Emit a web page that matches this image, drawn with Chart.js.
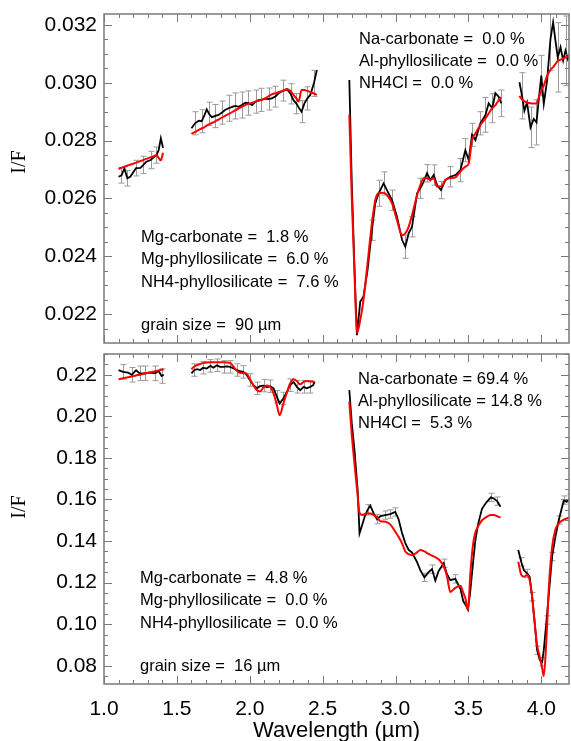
<!DOCTYPE html>
<html>
<head>
<meta charset="utf-8">
<script src="https://cdn.jsdelivr.net/npm/chart.js@4"></script>
<style>
  body { margin: 0; background: #fff; }
  #wrap { position: relative; width: 571px; height: 741px; }
  canvas { position: absolute; left: 0; }
</style>
</head>
<body>
<div id="wrap">
  <canvas id="top" width="571" height="350" style="top:0"></canvas>
  <canvas id="bottom" width="571" height="391" style="top:350px"></canvas>
</div>
<script>
// axis ticks
const xTicks = [1.0, 1.5, 2.0, 2.5, 3.0, 3.5, 4.0];
const topYTicks = [0.022, 0.024, 0.026, 0.028, 0.030, 0.032];
const bottomYTicks = [0.08, 0.10, 0.12, 0.14, 0.16, 0.18, 0.20, 0.22];

// top panel (90 um): wavelength, observed I/F, model, error half-height (null = none, gaps between segments)
const topWl = [
  1.10, 1.12, 1.14, 1.16, 1.18, 1.20, 1.22, 1.25, 1.27, 1.29, 1.32, 1.34, 1.36, 1.375, 1.39, 1.405,
  1.50,
  1.60, 1.625, 1.65, 1.67, 1.69, 1.705, 1.72, 1.74, 1.76, 1.785, 1.81, 1.83, 1.855, 1.88, 1.90, 1.925, 1.945, 1.97, 1.99, 2.015,
  2.04, 2.06, 2.08, 2.105, 2.13, 2.15, 2.175, 2.20, 2.23, 2.255, 2.28, 2.30, 2.32, 2.335, 2.355, 2.375, 2.395, 2.415, 2.44, 2.46,
  2.58,
  2.683, 2.70, 2.718, 2.735, 2.758, 2.78, 2.808, 2.838, 2.861, 2.884, 2.918, 2.941, 2.976, 3.01, 3.045, 3.067, 3.09, 3.113, 3.148, 3.17,
  3.193, 3.216, 3.239, 3.262, 3.285, 3.312, 3.342, 3.376, 3.411, 3.445, 3.479, 3.502, 3.525, 3.548, 3.582, 3.617, 3.639, 3.663, 3.685, 3.708, 3.725,
  3.79,
  3.85, 3.868, 3.884, 3.902, 3.926, 3.948, 3.967, 3.983, 4.0, 4.017, 4.04, 4.063, 4.081, 4.097, 4.113, 4.132, 4.15, 4.166, 4.182, 4.195
];
const topObs = [
  0.02675, 0.0268, 0.02704, 0.0267, 0.02675, 0.0269, 0.02705, 0.02706, 0.02716, 0.02727, 0.02733, 0.02742, 0.0275, 0.02767, 0.02808, 0.02775,
  null,
  0.02843, 0.0286, 0.02869, 0.02867, 0.02889, 0.02908, 0.02893, 0.02881, 0.02885, 0.02889, 0.02897, 0.02906, 0.02912, 0.02917, 0.0292, 0.02917, 0.02923, 0.02931, 0.0293, 0.02923,
  0.02935, 0.0294, 0.02941, 0.02945, 0.02944, 0.02946, 0.02952, 0.02965, 0.02973, 0.02978, 0.02962, 0.0294, 0.02928, 0.02915, 0.029, 0.02929, 0.02946, 0.02958, 0.02998, 0.03044,
  null,
  0.0301, 0.0265, 0.02364, 0.02127, 0.02243, 0.0226, 0.02352, 0.0249, 0.02583, 0.02618, 0.02652, 0.02629, 0.02594, 0.02537, 0.02456, 0.02433, 0.02479, 0.02502, 0.02618, 0.02635,
  0.02658, 0.02687, 0.02664, 0.02681, 0.02646, 0.02629, 0.02664, 0.02675, 0.02681, 0.02698, 0.02767, 0.02733, 0.0282, 0.02802, 0.0286, 0.02889, 0.02929, 0.02912, 0.02964, 0.02952, 0.02929,
  null,
  0.03002, 0.02955, 0.02903, 0.02932, 0.02846, 0.02875, 0.02863, 0.02944, 0.03025, 0.02927, 0.03008, 0.03152, 0.03209, 0.03146, 0.03088, 0.03123, 0.03077, 0.03111, 0.03082, 0.031
];
const topModel = [
  0.02702, 0.02706, 0.0271, 0.02713, 0.02717, 0.0272, 0.02724, 0.02729, 0.02733, 0.02737, 0.02742, 0.02746, 0.0275, 0.0274, 0.02732, 0.02758,
  null,
  0.02823, 0.0283, 0.02837, 0.02842, 0.02847, 0.02852, 0.02856, 0.02861, 0.02866, 0.02873, 0.0288, 0.02886, 0.02892, 0.02899, 0.02905, 0.02912, 0.02917, 0.02923, 0.02927, 0.02931,
  0.02935, 0.02938, 0.02941, 0.02946, 0.02954, 0.0296, 0.02964, 0.02968, 0.02973, 0.02978, 0.02972, 0.02958, 0.02946, 0.02935, 0.02975, 0.02975, 0.02972, 0.02968, 0.02963, 0.02958,
  null,
  0.0289, 0.0260, 0.0235, 0.02135, 0.02179, 0.02248, 0.02375, 0.02515, 0.02594, 0.02619, 0.0262, 0.02612, 0.02583, 0.02525, 0.02473, 0.02479, 0.02502, 0.02542, 0.02612, 0.02646,
  0.0267, 0.0267, 0.02664, 0.0267, 0.02641, 0.02641, 0.02664, 0.0267, 0.02673, 0.02693, 0.0271, 0.02721, 0.02802, 0.02825, 0.02854, 0.02877, 0.02894, 0.02912, 0.02923, 0.0294, 0.0295,
  null,
  0.02955, 0.02942, 0.02936, 0.02932, 0.02929, 0.02928, 0.02929, 0.0295, 0.02975, 0.0299, 0.03025, 0.03045, 0.03054, 0.03065, 0.03075, 0.0308, 0.03084, 0.03088, 0.03092, 0.03094
];
const topErr = [
  null, 0.00027, null, 0.00027, null, null, 0.00027, null, 0.0003, null, 0.0003, null, 0.00028, null, null, null,
  null,
  null, 0.0004, null, 0.0004, null, null, 0.0004, null, 0.0004, null, 0.0004, null, 0.00045, null, 0.00045, null, 0.00045, null, 0.00042, null,
  0.0004, null, 0.0004, null, 0.00038, null, 0.00036, null, 0.00036, null, 0.00035, null, 0.00035, null, 0.00038, null, 0.0004, null, 0.00045, null,
  null,
  null, null, null, null, null, null, null, 0.00035, null, 0.00045, 0.0004, null, 0.00035, null, null, 0.0004, null, 0.00035, null, 0.00035,
  null, 0.0003, null, 0.00035, null, 0.0003, null, 0.00035, null, 0.0004, 0.0004, null, 0.0004, null, 0.0004, 0.0006, null, 0.0005, null, null, 0.00046,
  null,
  null, 0.0008, null, null, 0.0007, null, 0.00078, null, 0.0007, null, null, 0.0011, null, null, 0.0012, null, null, 0.0012, null, null
];

// bottom panel (16 um)
const bottomWl = [
  1.10, 1.13, 1.165, 1.19, 1.22, 1.245, 1.28, 1.315, 1.35, 1.375, 1.395, 1.41,
  1.50,
  1.60, 1.62, 1.64, 1.66, 1.68, 1.705, 1.73, 1.75, 1.775, 1.795, 1.82, 1.845, 1.865, 1.89, 1.91, 1.93, 1.955, 1.98, 2.00, 2.025,
  2.05, 2.07, 2.095, 2.117, 2.14, 2.163, 2.186, 2.205, 2.23, 2.255, 2.277, 2.30, 2.323, 2.346, 2.37, 2.39, 2.415, 2.435, 2.445,
  2.58,
  2.683, 2.70, 2.72, 2.74, 2.753, 2.77, 2.79, 2.808, 2.827, 2.85, 2.873, 2.896, 2.93, 2.964, 2.998, 3.021, 3.044, 3.067, 3.09, 3.113,
  3.147, 3.17, 3.198, 3.227, 3.25, 3.273, 3.295, 3.33, 3.353, 3.376, 3.41, 3.445, 3.465, 3.479, 3.497, 3.513, 3.531, 3.547, 3.566, 3.593,
  3.622, 3.654, 3.674, 3.697, 3.72,
  3.79,
  3.842, 3.862, 3.88, 3.902, 3.92, 3.937, 3.955, 3.971, 3.99, 4.006, 4.017, 4.036, 4.052, 4.074, 4.097, 4.12, 4.143, 4.155, 4.172, 4.195
];
const bottomObs = [
  0.2222, 0.2214, 0.2211, 0.2200, 0.2222, 0.2207, 0.2207, 0.2211, 0.2207, 0.2218, 0.2194, 0.2200,
  null,
  0.2207, 0.2223, 0.2227, 0.2223, 0.2234, 0.2230, 0.2243, 0.2234, 0.2246, 0.2238, 0.2238, 0.2240, 0.2238, 0.2230, 0.2223, 0.2218, 0.2214, 0.2199, 0.2175, 0.2150,
  0.2135, 0.2145, 0.2148, 0.2140, 0.2145, 0.2135, 0.2094, 0.2062, 0.2086, 0.2118, 0.2150, 0.2166, 0.2142, 0.2126, 0.2142, 0.2135, 0.2142, 0.2150, 0.2166,
  null,
  0.2126, 0.1966, 0.1825, 0.1645, 0.1437, 0.1475, 0.1520, 0.1550, 0.1570, 0.1533, 0.1505, 0.1520, 0.1525, 0.1530, 0.1540, 0.1505, 0.1440, 0.1390, 0.1357, 0.1345,
  0.1300, 0.1260, 0.1225, 0.1250, 0.1265, 0.1210, 0.1255, 0.1293, 0.1240, 0.1212, 0.1218, 0.1170, 0.1110, 0.1095, 0.1070, 0.1160, 0.1290, 0.1400, 0.1480, 0.1555,
  0.1585, 0.1610, 0.1605, 0.1592, 0.1565,
  null,
  0.1357, 0.1300, 0.1260, 0.1244, 0.1228, 0.1132, 0.1004, 0.0875, 0.0827, 0.0819, 0.0875, 0.1020, 0.1148, 0.1325, 0.1421, 0.1501, 0.1565, 0.1597, 0.1589, 0.1605
];
const bottomModel = [
  0.2178, 0.2183, 0.2188, 0.2192, 0.2197, 0.2200, 0.2206, 0.2211, 0.2217, 0.2221, 0.2224, 0.2226,
  null,
  0.2227, 0.2240, 0.2247, 0.2252, 0.2256, 0.2259, 0.2260, 0.2260, 0.2260, 0.2260, 0.2260, 0.2259, 0.2257, 0.2238, 0.2220, 0.2210, 0.2209, 0.2205, 0.2180, 0.2150,
  0.2125, 0.2120, 0.2140, 0.2148, 0.2142, 0.2110, 0.2054, 0.2005, 0.2060, 0.2115, 0.2158, 0.2178, 0.2170, 0.2154, 0.2166, 0.2170, 0.2168, 0.2166, 0.2166,
  null,
  0.2070, 0.1910, 0.1760, 0.1620, 0.1535, 0.1525, 0.1530, 0.1533, 0.1533, 0.1525, 0.1515, 0.1495, 0.1493, 0.1480, 0.1445, 0.1420, 0.1390, 0.1350, 0.1337, 0.1332,
  0.1345, 0.1357, 0.1350, 0.1338, 0.1330, 0.1322, 0.1312, 0.1280, 0.1230, 0.1155, 0.1175, 0.1185, 0.1150, 0.1125, 0.1068, 0.1240, 0.1380, 0.1440, 0.1470, 0.1500,
  0.1515, 0.1525, 0.1525, 0.1520, 0.1512,
  null,
  0.1300, 0.1238, 0.1228, 0.1236, 0.1212, 0.1132, 0.1004, 0.0900, 0.0840, 0.0788, 0.0750, 0.0940, 0.1180, 0.1370, 0.1455, 0.1485, 0.1498, 0.1503, 0.1508, 0.1514
];
const bottomErr = [
  null, 0.0035, null, 0.0035, null, 0.0035, 0.0035, null, 0.0035, null, 0.0035, null,
  null,
  null, 0.003, null, null, 0.003, null, 0.003, null, 0.003, null, 0.003, null, 0.003, null, 0.003, null, 0.003, null, 0.003, null,
  0.003, null, 0.003, null, 0.003, null, 0.003, null, 0.003, null, 0.003, null, 0.003, null, 0.003, null, 0.003, null, null,
  null,
  null, null, null, null, null, null, null, 0.0025, null, null, 0.0022, null, 0.002, 0.002, 0.002, null, null, null, null, null,
  null, null, 0.002, null, 0.002, null, null, 0.002, null, null, 0.002, null, null, null, null, null, null, null, null, null,
  null, 0.002, null, 0.002, null,
  null,
  null, 0.002, null, 0.002, null, 0.002, null, 0.002, null, 0.002, null, 0.002, null, 0.002, null, 0.002, null, 0.002, null, 0.002
];

// annotations
const topNotesRight = ['Na-carbonate =  0.0 %', 'Al-phyllosilicate =  0.0 %', 'NH4Cl =  0.0 %'];
const topNotesLeft = ['Mg-carbonate =  1.8 %', 'Mg-phyllosilicate =  6.0 %', 'NH4-phyllosilicate =  7.6 %'];
const topGrain = 'grain size =  90 \u00b5m';
const bottomNotesRight = ['Na-carbonate = 69.4 %', 'Al-phyllosilicate = 14.8 %', 'NH4Cl =  5.3 %'];
const bottomNotesLeft = ['Mg-carbonate =  4.8 %', 'Mg-phyllosilicate =  0.0 %', 'NH4-phyllosilicate =  0.0 %'];
const bottomGrain = 'grain size =  16 \u00b5m';

const SANS = '"Liberation Sans", Arial, Helvetica, sans-serif';
Chart.defaults.font.family = SANS;
Chart.defaults.color = '#000';

function points(wl, vals) {
    return wl.map((x, i) => ({ x: x, y: vals[i] }));
}

// gray error bars under the curves
function makeErrorBars(wl, obs, err) {
    return {
        id: 'errorBars',
        beforeDatasetsDraw(chart) {
            const { ctx, chartArea: a, scales } = chart;
            ctx.save();
            ctx.beginPath();
            ctx.rect(a.left, a.top, a.width, a.height);
            ctx.clip();
            ctx.strokeStyle = '#9a9a9a';
            ctx.lineWidth = 1;
            for (let i = 0; i < wl.length; i++) {
                if (err[i] == null || obs[i] == null) continue;
                const px = Math.round(scales.x.getPixelForValue(wl[i])) + 0.5;
                const y1 = scales.y.getPixelForValue(obs[i] - err[i]);
                const y2 = scales.y.getPixelForValue(obs[i] + err[i]);
                ctx.beginPath();
                ctx.moveTo(px, y1); ctx.lineTo(px, y2);
                ctx.moveTo(px - 3, y1); ctx.lineTo(px + 3, y1);
                ctx.moveTo(px - 3, y2); ctx.lineTo(px + 3, y2);
                ctx.stroke();
            }
            ctx.restore();
        }
    };
}

// box and inward ticks on all four sides
function makeFrame(yTicks, yMinor) {
    return {
        id: 'frame',
        afterDraw(chart) {
            const { ctx, chartArea: a, scales } = chart;
            ctx.save();
            ctx.strokeStyle = '#7a7a7a';
            ctx.lineWidth = 1.5;
            ctx.strokeRect(a.left, a.top, a.width, a.height);
            ctx.lineWidth = 1;
            ctx.beginPath();
            for (let k = 0; ; k++) {
                const v = 1.0 + k * 0.1;
                if (v > scales.x.max) break;
                const px = Math.round(scales.x.getPixelForValue(v)) + 0.5;
                const len = (k % 5 === 0) ? 8 : 4;
                ctx.moveTo(px, a.bottom); ctx.lineTo(px, a.bottom - len);
                ctx.moveTo(px, a.top); ctx.lineTo(px, a.top + len);
            }
            const y0 = yTicks[0];
            const per = Math.round((yTicks[1] - yTicks[0]) / yMinor);
            for (let k = -per; ; k++) {
                const v = y0 + k * yMinor;
                if (v > scales.y.max) break;
                if (v < scales.y.min) continue;
                const py = Math.round(scales.y.getPixelForValue(v)) + 0.5;
                const len = (((k % per) + per) % per === 0) ? 8 : 4;
                ctx.moveTo(a.left, py); ctx.lineTo(a.left + len, py);
                ctx.moveTo(a.right, py); ctx.lineTo(a.right - len, py);
            }
            ctx.stroke();
            ctx.restore();
        }
    };
}

function makeNotes(left, right, grain, lx, ly, rx, ry, ifY) {
    return {
        id: 'notes',
        afterDraw(chart) {
            const ctx = chart.ctx;
            ctx.save();
            ctx.fillStyle = '#000';
            ctx.font = '16.5px ' + SANS;
            ctx.textAlign = 'left';
            ctx.textBaseline = 'middle';
            left.forEach((t, i) => ctx.fillText(t, lx, ly + i * 22.5));
            ctx.fillText(grain, lx, ly + 88);
            right.forEach((t, i) => ctx.fillText(t, rx, ry + i * 22));
            ctx.translate(19.5, ifY);
            ctx.rotate(-Math.PI / 2);
            ctx.textAlign = 'center';
            ctx.font = '20px "Liberation Serif", "Times New Roman", serif';
            ctx.fillText('I/F', 0, 0);
            ctx.restore();
        }
    };
}

function makeChart(id, cfg) {
    const yScale = {
        type: 'linear',
        min: cfg.yMin,
        max: cfg.yMax,
        grid: { display: false, drawTicks: false },
        border: { display: false },
        afterBuildTicks: s => { s.ticks = cfg.yTicks.map(v => ({ value: v })); },
        afterFit: s => { s.width = 104; s.paddingTop = 0; s.paddingBottom = 0; },
        ticks: {
            autoSkip: false,
            padding: 7,
            font: { size: 21 },
            callback: v => v.toFixed(cfg.yDigits)
        }
    };
    const xScale = {
        type: 'linear',
        min: 1.0,
        max: 4.19,
        grid: { display: false, drawTicks: false },
        border: { display: false },
        afterBuildTicks: s => { s.ticks = xTicks.map(v => ({ value: v })); },
        afterFit: s => { s.height = cfg.xHeight; s.paddingLeft = 0; s.paddingRight = 0; },
        ticks: {
            display: cfg.xLabels,
            autoSkip: false,
            maxRotation: 0,
            padding: 13,
            font: { size: 21 },
            callback: v => v.toFixed(1)
        },
        title: {
            display: cfg.xLabels,
            text: 'Wavelength (\u00b5m)',
            font: { size: 22 },
            padding: { top: 0, bottom: -3 }
        }
    };
    return new Chart(document.getElementById(id), {
        type: 'line',
        data: {
            datasets: [{
                label: 'model',
                data: points(cfg.wl, cfg.model),
                borderColor: '#ff0000',
                borderWidth: 2,
                pointRadius: 0,
                cubicInterpolationMode: 'monotone',
                spanGaps: false
            }, {
                label: 'observed',
                data: points(cfg.wl, cfg.obs),
                borderColor: '#000000',
                borderWidth: 1.8,
                pointRadius: 0,
                tension: 0,
                spanGaps: false
            }]
        },
        options: {
            responsive: false,
            animation: false,
            layout: { padding: cfg.padding },
            scales: { x: xScale, y: yScale },
            plugins: {
                legend: { display: false },
                tooltip: { enabled: false }
            }
        },
        plugins: [
            makeErrorBars(cfg.wl, cfg.obs, cfg.err),
            makeFrame(cfg.yTicks, cfg.yMinor),
            makeNotes(cfg.left, cfg.right, cfg.grain, cfg.lx, cfg.ly, cfg.rx, cfg.ry, cfg.ifY)
        ]
    });
}

makeChart('top', {
    wl: topWl, obs: topObs, model: topModel, err: topErr,
    yMin: 0.0210, yMax: 0.03238, yTicks: topYTicks, yMinor: 0.0005, yDigits: 3,
    xLabels: false, xHeight: 7,
    padding: { top: 14, right: 2, left: 0, bottom: 0 },
    left: topNotesLeft, right: topNotesRight, grain: topGrain,
    lx: 141, ly: 237, rx: 359, ry: 39, ifY: 162
});

makeChart('bottom', {
    wl: bottomWl, obs: bottomObs, model: bottomModel, err: bottomErr,
    yMin: 0.0712, yMax: 0.2300, yTicks: bottomYTicks, yMinor: 0.005, yDigits: 2,
    xLabels: true, xHeight: 57,
    padding: { top: 4, right: 2, left: 0, bottom: 0 },
    left: bottomNotesLeft, right: bottomNotesRight, grain: bottomGrain,
    lx: 140, ly: 228, rx: 358, ry: 29, ifY: 157
});
</script>
</body>
</html>
